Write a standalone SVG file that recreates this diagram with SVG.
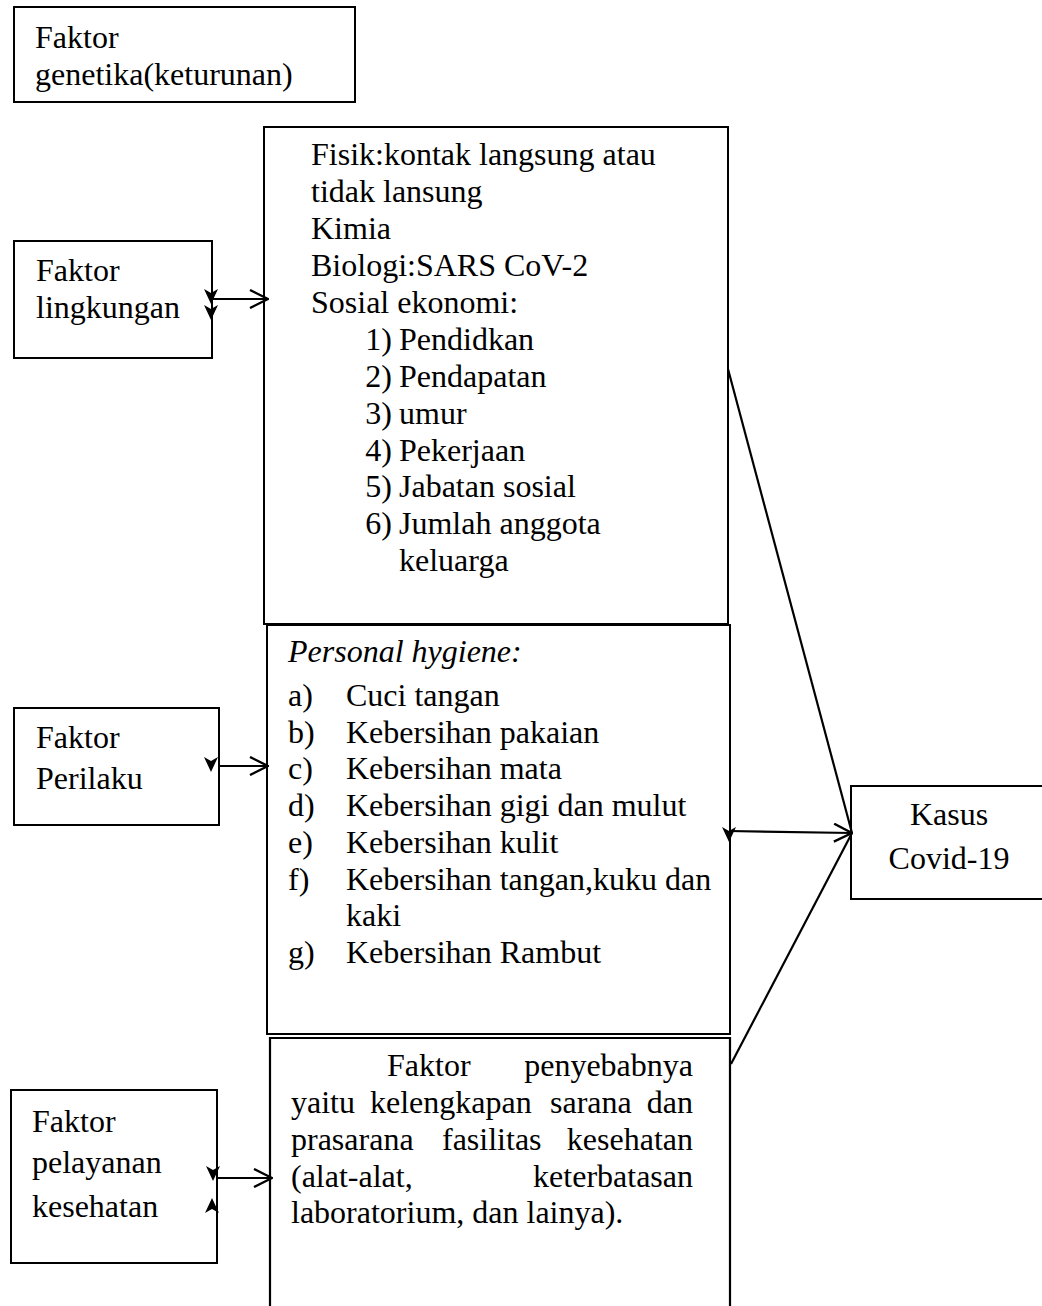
<svg xmlns="http://www.w3.org/2000/svg" width="1042" height="1306" viewBox="0 0 1042 1306">
<style>
text{font-family:"Liberation Serif","Times New Roman",serif;font-size:32px;fill:#000}
.box{fill:#fff;stroke:#000;stroke-width:2}
.ln{stroke:#000;stroke-width:2.2;fill:none}
.it{font-style:italic}
.end{text-anchor:end}
.mid{text-anchor:middle}
</style>
<defs>
<marker id="open" viewBox="0 0 20 20" refX="19" refY="10" markerWidth="20" markerHeight="20" markerUnits="userSpaceOnUse" orient="auto">
<path d="M1,1 L19,10 L1,19" fill="none" stroke="#000" stroke-width="2.4"/>
</marker>
<path id="dn" d="M0,0 L-7,-15 L0,-11 L7,-15 Z" fill="#000"/>
</defs>
<rect width="1042" height="1306" fill="#fff"/>

<g id="genetika">
<rect class="box" x="14" y="7" width="341" height="95"/>
<text x="35" y="48">Faktor</text>
<text x="35" y="85">genetika(keturunan)</text>
</g>

<g id="lingkungan">
<rect class="box" x="14" y="241" width="198" height="117"/>
<text x="36" y="281">Faktor</text>
<text x="36" y="318">lingkungan</text>
</g>

<g id="lingkungan-detail">
<rect class="box" x="264" y="127" width="464" height="497"/>
<text x="311" y="165">Fisik:kontak langsung atau</text>
<text x="311" y="202">tidak lansung</text>
<text x="311" y="239">Kimia</text>
<text x="311" y="276">Biologi:SARS CoV-2</text>
<text x="311" y="313">Sosial ekonomi:</text>
<text class="end" x="392" y="350">1)</text><text x="399" y="350">Pendidkan</text>
<text class="end" x="392" y="387">2)</text><text x="399" y="387">Pendapatan</text>
<text class="end" x="392" y="424">3)</text><text x="399" y="424">umur</text>
<text class="end" x="392" y="461">4)</text><text x="399" y="461">Pekerjaan</text>
<text class="end" x="392" y="497">5)</text><text x="399" y="497">Jabatan sosial</text>
<text class="end" x="392" y="534">6)</text><text x="399" y="534">Jumlah anggota</text>
<text x="399" y="571">keluarga</text>
</g>

<g id="perilaku">
<rect class="box" x="14" y="708" width="205" height="117"/>
<text x="36" y="748">Faktor</text>
<text x="36" y="789">Perilaku</text>
</g>

<g id="perilaku-detail">
<rect class="box" x="267" y="625" width="463" height="409"/>
<text class="it" x="288" y="662">Personal hygiene:</text>
<text x="288" y="706">a)</text><text x="346" y="706">Cuci tangan</text>
<text x="288" y="743">b)</text><text x="346" y="743">Kebersihan pakaian</text>
<text x="288" y="779">c)</text><text x="346" y="779">Kebersihan mata</text>
<text x="288" y="816">d)</text><text x="346" y="816">Kebersihan gigi dan mulut</text>
<text x="288" y="853">e)</text><text x="346" y="853">Kebersihan kulit</text>
<text x="288" y="890">f)</text><text x="346" y="890">Kebersihan tangan,kuku dan</text>
<text x="346" y="926">kaki</text>
<text x="288" y="963">g)</text><text x="346" y="963">Kebersihan Rambut</text>
</g>

<g id="pelayanan">
<rect class="box" x="11" y="1090" width="206" height="173"/>
<text x="32" y="1132">Faktor</text>
<text x="32" y="1173">pelayanan</text>
<text x="32" y="1217">kesehatan</text>
</g>

<g id="pelayanan-detail">
<path class="ln" d="M270,1320 V1038 H730 V1320"/>
<text x="387" y="1076">Faktor</text><text class="end" x="693" y="1076">penyebabnya</text>
<text x="291" y="1113">yaitu</text><text x="370" y="1113">kelengkapan</text><text x="550" y="1113">sarana</text><text class="end" x="693" y="1113">dan</text>
<text x="291" y="1150">prasarana</text><text x="442" y="1150">fasilitas</text><text class="end" x="693" y="1150">kesehatan</text>
<text x="291" y="1187">(alat-alat,</text><text class="end" x="693" y="1187">keterbatasan</text>
<text x="291" y="1223">laboratorium, dan lainya).</text>
</g>

<g id="kasus">
<rect class="box" x="851" y="786" width="210" height="113"/>
<text class="mid" x="949" y="825">Kasus</text>
<text class="mid" x="949" y="869">Covid-19</text>
</g>

<g id="connectors">
<line class="ln" x1="212" y1="299" x2="268" y2="299" marker-end="url(#open)"/>
<use href="#dn" x="211" y="304"/>
<use href="#dn" x="211" y="320"/>
<line class="ln" x1="219" y1="766" x2="268" y2="766" marker-end="url(#open)"/>
<use href="#dn" x="211" y="772"/>
<line class="ln" x1="217" y1="1178" x2="272" y2="1178" marker-end="url(#open)"/>
<use href="#dn" x="213" y="1181"/>
<use href="#dn" transform="translate(212,1198) rotate(180)"/>
<line class="ln" x1="729" y1="831" x2="852" y2="833" marker-end="url(#open)"/>
<use href="#dn" x="729" y="842"/>
<line class="ln" x1="728" y1="369" x2="852" y2="833"/>
<line class="ln" x1="731" y1="1064" x2="852" y2="833"/>
</g>
</svg>
